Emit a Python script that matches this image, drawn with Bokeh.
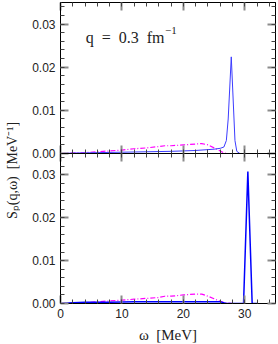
from bokeh.plotting import figure
from bokeh.layouts import row, column
from bokeh.models import Range1d, LinearAxis, SingleIntervalTicker, Label, PrintfTickFormatter
from bokeh.embed import file_html
from bokeh.resources import INLINE

# ---- data ----
top_blue_w = [0, 2, 4, 6, 8, 10, 12, 14, 16, 18, 20, 22, 24, 25, 26, 26.6, 27.0, 27.3, 27.8, 28.4, 28.7, 29.2, 30]
top_blue_s = [0, 0.0001, 0.00015, 0.0002, 0.00025, 0.0003, 0.00035, 0.0004, 0.00045, 0.0005, 0.0006, 0.0007,
              0.0009, 0.001, 0.0012, 0.0015, 0.003, 0.008, 0.0224, 0.003, 0.0005, 0, 0]
top_mag_w = [0, 2, 4, 6, 8, 10, 12, 14, 16, 17, 18, 20, 22, 23, 24, 25, 26, 26.5, 27, 28, 30]
top_mag_s = [0, 0.0001, 0.0002, 0.0004, 0.0006, 0.0008, 0.0011, 0.0013, 0.0016, 0.0018, 0.0018, 0.0020,
             0.0022, 0.0023, 0.0020, 0.0013, 0.0006, 0.0002, 0, 0, 0]
bot_blue_w = [0, 2, 4, 8, 12, 16, 20, 24, 26, 26.5, 27, 29.8, 30.5, 31.2, 32]
bot_blue_s = [0, 0.0002, 0.0003, 0.0003, 0.0004, 0.0004, 0.0004, 0.0004, 0.0004, 0.0002, 0, 0, 0.0308, 0, 0]
bot_mag_w = [0, 2, 4, 6, 8, 10, 12, 14, 16, 17, 18, 20, 22, 23, 24, 25, 26, 27, 28]
bot_mag_s = [0, 0.0001, 0.0002, 0.0004, 0.0006, 0.0008, 0.001, 0.0012, 0.0014, 0.0017, 0.0017, 0.002,
             0.0022, 0.0022, 0.0017, 0.0011, 0.0005, 0.0001, 0]

q_label = "q\u2002=\u20020.3\u2002fm"
q_sup = "\u22121"
x_title = "\u03c9\u2002[MeV]"
y_title = "S\u209a(q,\u03c9)\u2002[MeV\u207b\u00b9]"

SANS = "Liberation Sans"
SERIF = "Liberation Serif"


def style_axis(ax, labels):
    ax.major_tick_in = 8
    ax.major_tick_out = 0
    ax.minor_tick_in = 4
    ax.minor_tick_out = 0
    ax.major_tick_line_color = "#8c8c8c"
    ax.major_tick_line_width = 2
    ax.minor_tick_line_color = "#444444"
    ax.minor_tick_line_width = 1
    ax.axis_line_color = "black"
    ax.axis_line_width = 1
    if labels:
        ax.major_label_text_font = SANS
        ax.major_label_text_font_size = "12px"
        ax.major_label_text_color = "#222222"
        ax.major_label_standoff = 5
    else:
        ax.major_label_text_font_size = "0px"
        ax.major_label_text_color = None
        ax.major_label_standoff = 0


def make_panel(bottom):
    kw = {}
    if bottom:
        kw["styles"] = {"margin-top": "-8px"}
    p = figure(frame_width=215, frame_height=150 if bottom else 151,
               x_range=Range1d(0, 35), y_range=Range1d(0, 0.035),
               output_backend="svg", toolbar_location=None,
               x_axis_location=None, y_axis_location=None,
               min_border_left=40, min_border_right=3,
               min_border_top=0 if bottom else 2, min_border_bottom=0 if bottom else 8,
               **kw)
    p.grid.visible = False
    p.outline_line_color = "black"
    if bottom:
        p.background_fill_color = None
        p.border_fill_color = None
    else:
        p.background_fill_color = "white"
        p.border_fill_color = "white"
    for loc in ["left", "right", "above", "below"]:
        if loc in ("left", "right"):
            ax = LinearAxis(ticker=SingleIntervalTicker(interval=0.01, num_minor_ticks=5),
                            formatter=PrintfTickFormatter(format="%.2f"))
            style_axis(ax, loc == "left")
        else:
            ax = LinearAxis(ticker=SingleIntervalTicker(interval=10, num_minor_ticks=5))
            show = bottom and loc == "below"
            style_axis(ax, show)
            if show:
                ax.axis_label = x_title
                ax.axis_label_text_font = SERIF
                ax.axis_label_text_font_style = "normal"
                ax.axis_label_text_font_size = "15px"
                ax.axis_label_text_color = "#222222"
                ax.axis_label_standoff = 6
        p.add_layout(ax, loc)
    return p


top = make_panel(False)
top.line(top_mag_w, top_mag_s, line_color="#ff00ff", line_width=1.2, line_dash="5 2 1 2")
top.line(top_blue_w, top_blue_s, line_color="#3c3cff", line_width=1)
top.add_layout(Label(x=4.1, y=0.0269, text=q_label, text_font=SERIF,
                     text_font_size="16px", text_color="#222222", text_baseline="alphabetic"))
top.add_layout(Label(x=17.0, y=0.0284, text=q_sup, text_font=SERIF,
                     text_font_size="11px", text_color="#222222", text_baseline="alphabetic"))

bot = make_panel(True)
bot.line(bot_mag_w, bot_mag_s, line_color="#ff00ff", line_width=1.2, line_dash="5 2 1 2")
bot.line(bot_blue_w, bot_blue_s, line_color="#0000ff", line_width=1.5)

lab = figure(width=20, height=340, x_range=Range1d(0, 1), y_range=Range1d(0, 1),
             output_backend="svg", toolbar_location=None,
             x_axis_location=None, y_axis_location=None,
             min_border=0)
lab.grid.visible = False
lab.outline_line_color = None
lab.add_layout(Label(x=0.6, y=0.5, text=y_title, angle=1.5707963, text_align="center",
                     text_baseline="middle", text_font=SERIF, text_font_size="14px",
                     text_color="#222222"))

layout = row(lab, column(top, bot, spacing=0), spacing=0)

open("out.html", "w").write(file_html(layout, INLINE))
